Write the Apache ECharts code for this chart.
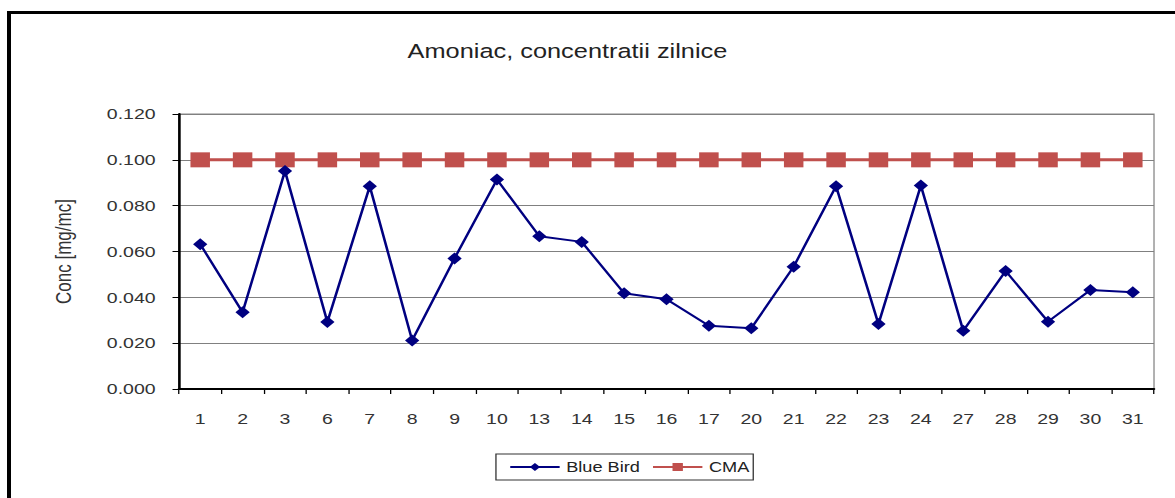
<!DOCTYPE html>
<html>
<head>
<meta charset="utf-8">
<script src="https://cdn.jsdelivr.net/npm/echarts@6/dist/echarts.min.js"></script>
<style>
html,body{margin:0;padding:0;background:#fff;overflow:hidden;}
#frame{position:absolute;left:7px;top:11px;width:1168px;height:487px;border-left:4px solid #000;border-top:3px solid #000;box-sizing:border-box;}
#chart{position:absolute;left:0;top:0;width:904px;height:498px;transform:scaleX(1.3);transform-origin:0 0;}
</style>
</head>
<body>
<div id="frame"></div>
<div id="chart"></div>
<script>
const categories = ['1','2','3','6','7','8','9','10','13','14','15','16','17','20','21','22','23','24','27','28','29','30','31'];
const blueBird = [0.0632,0.0335,0.0951,0.0292,0.0885,0.0212,0.0570,0.0914,0.0667,0.0642,0.0418,0.0392,0.0276,0.0265,0.0534,0.0885,0.0284,0.0888,0.0254,0.0515,0.0294,0.0432,0.0422];
const cma = [0.1,0.1,0.1,0.1,0.1,0.1,0.1,0.1,0.1,0.1,0.1,0.1,0.1,0.1,0.1,0.1,0.1,0.1,0.1,0.1,0.1,0.1,0.1];
const yTicks = [0, 0.02, 0.04, 0.06, 0.08, 0.1, 0.12];

const font = 'Liberation Sans, Arial, sans-serif';
const chart = echarts.init(document.getElementById('chart'), null, {renderer: 'svg'});
chart.setOption({
  animation: false,
  backgroundColor: 'transparent',
  textStyle: {fontFamily: font},
  title: {
    text: 'Amoniac, concentratii zilnice',
    left: 431.5, top: 37, textAlign: 'center',
    textStyle: {fontFamily: font, fontSize: 19.5, fontWeight: 'normal', color: '#222'}
  },
  grid: {left: 137.7, right: 16.3, top: 114, bottom: 109, show: true, borderColor: '#888', borderWidth: 1},
  legend: {
    left: 381.5, top: 454,
    borderColor: '#333', borderWidth: 1, borderRadius: 0,
    padding: [6, 3, 6, 10],
    itemGap: 9, itemWidth: 38, itemHeight: 10,
    textStyle: {fontFamily: font, fontSize: 14, color: '#222'},
    data: ['Blue Bird', 'CMA']
  },
  xAxis: {
    type: 'category', data: categories, boundaryGap: true,
    axisLine: {lineStyle: {color: '#000', width: 2}},
    axisTick: {show: true, length: 5, lineStyle: {color: '#000'}},
    axisLabel: {fontFamily: font, fontSize: 15, color: '#333', margin: 22, interval: 0}
  },
  yAxis: {
    type: 'value', min: yTicks[0], max: yTicks[yTicks.length - 1], interval: yTicks[1] - yTicks[0],
    name: 'Conc [mg/mc]', nameLocation: 'middle', nameGap: 81, nameRotate: 90,
    nameTextStyle: {fontFamily: font, fontSize: 17, color: '#333'},
    axisLine: {show: true, lineStyle: {color: '#000', width: 2}},
    axisTick: {show: true, length: 5, lineStyle: {color: '#000'}},
    axisLabel: {fontFamily: font, fontSize: 15, color: '#333', margin: 18, formatter: v => v.toFixed(3)},
    splitLine: {lineStyle: {color: '#808080', width: 1}}
  },
  series: [
    {
      name: 'Blue Bird', type: 'line', data: blueBird,
      symbol: 'diamond', symbolSize: [11, 12],
      lineStyle: {color: '#000080', width: 2},
      itemStyle: {color: '#000080'}
    },
    {
      name: 'CMA', type: 'line', data: cma,
      symbol: 'rect', symbolSize: 15,
      lineStyle: {color: '#C0504D', width: 3},
      itemStyle: {color: '#C0504D'}, z: 1
    }
  ]
});
</script>
</body>
</html>
